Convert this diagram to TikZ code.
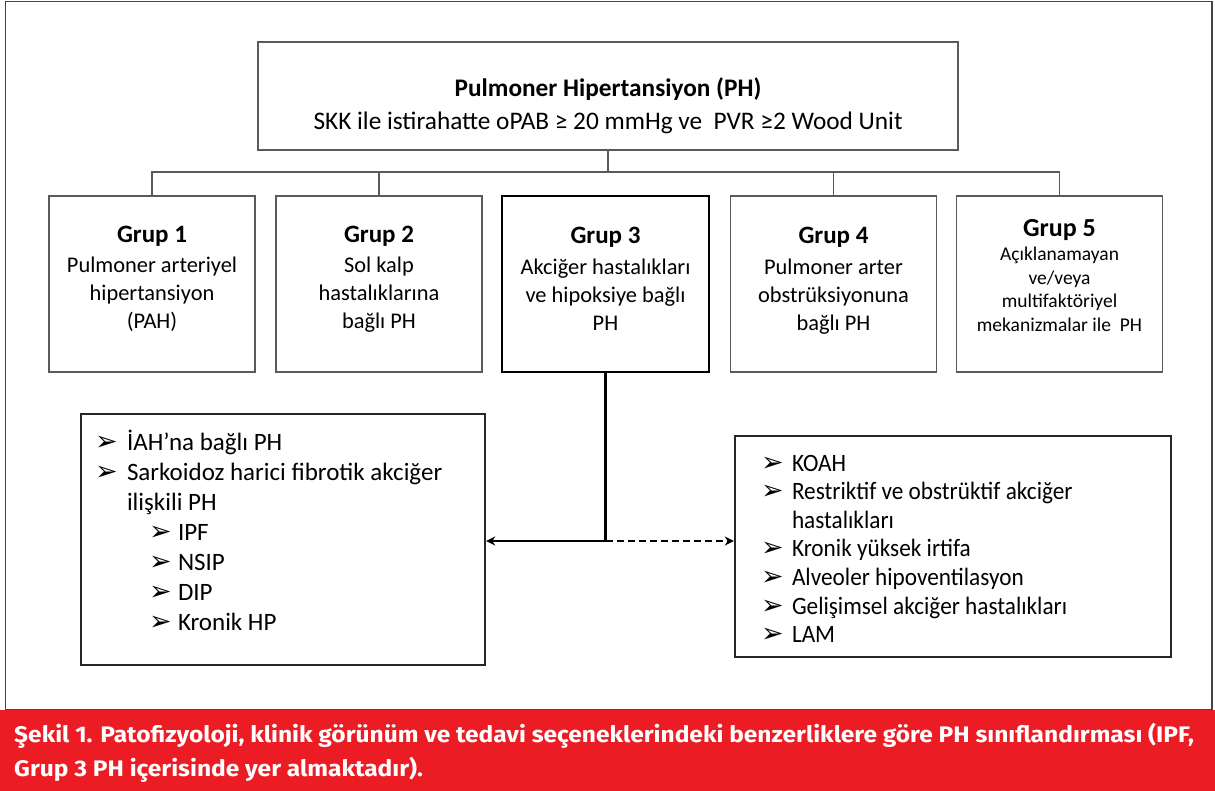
\documentclass[tikz,border=0pt]{standalone}
\usepackage{fontspec}
\setmainfont{Carlito}
\newfontfamily\dingfont{DejaVu Sans}
\newfontfamily\capfont[FakeStretch=1.09]{Fira Sans}
\newfontfamily\narrowfont[FakeStretch=0.93]{Carlito}
\usetikzlibrary{arrows.meta}
\definecolor{boxgray}{HTML}{5A5A5A}
\definecolor{framegray}{HTML}{444444}
\definecolor{capred}{HTML}{EC1C24}
% list bullets
\newcommand{\bul}{{\dingfont\fontsize{27}{27}\selectfont ➢}}
\newcommand{\itm}[2][32pt]{\makebox[#1][l]{\bul}#2}
\newcommand{\subitm}[1]{\hspace*{54pt}\makebox[29pt][l]{\bul}#1}
% first-line strut and box bodies: #1 = body height, #2 = width, #3 = text
\newcommand{\fstrut}{\rule{0pt}{20pt}}
\newcommand{\cbody}[3]{\parbox[c][#1][t]{#2}{\centering\fstrut #3}}
\newcommand{\lbody}[3]{\parbox[c][#1][t]{#2}{\raggedright\fstrut #3}}
\newcommand{\gt}[1]{{\bfseries\fontsize{25}{28}\selectfont #1}}
\tikzset{
  topbox/.style={draw=boxgray, line width=1.6pt, minimum width=700pt, minimum height=108pt, inner sep=0pt},
  grpbox/.style={draw=boxgray, line width=1.6pt, minimum width=206pt, minimum height=176pt, inner sep=0pt},
  keybox/.style={grpbox, draw=black, line width=2.8pt, minimum width=207pt},
  listbox/.style={draw=black!85, line width=2.4pt, inner sep=0pt},
  bus/.style={draw=boxgray, line width=1.4pt},
  link/.style={draw=black, line width=2.4pt},
  tip/.style={-{Stealth[length=9pt,width=9pt]}},
}
\begin{document}
\begin{tikzpicture}[x=1pt, y=-1pt]
\useasboundingbox (0,0) rectangle (1215,791);
% page frame and caption banner
\draw[framegray, line width=1.5pt] (5.5,1.5) rectangle (1212,710);
\fill[capred] (0,710) rectangle (1215,791);
\node[anchor=north west, inner sep=0pt, text=white] (cap) at (14,722)
  {\parbox[t]{1200pt}{\capfont\bfseries\fontsize{22.5}{34}\selectfont\fstrut
   Şekil 1. Patofizyoloji, klinik görünüm ve tedavi seçeneklerindeki benzerliklere göre PH sınıflandırması (IPF,\\
   Grup 3 PH içerisinde yer almaktadır).}};

% root
\node[topbox] (top) at (608,96)
  {\cbody{38pt}{680pt}{\fontsize{25.3}{33}\selectfont
   {\bfseries Pulmoner Hipertansiyon (PH)}\\
   SKK ile istirahatte oPAB ≥ 20 mmHg ve\ \ PVR ≥2 Wood Unit}};

% groups
\node[grpbox] (g1) at (152,284) {\cbody{122pt}{200pt}{\fontsize{22.4}{28}\selectfont
  \gt{Grup 1}\\[2pt] Pulmoner arteriyel\\ hipertansiyon\\ (PAH)}};
\node[grpbox] (g2) at (379,284) {\cbody{122pt}{200pt}{\fontsize{22.4}{28}\selectfont
  \gt{Grup 2}\\[2pt] Sol kalp\\ hastalıklarına\\ bağlı PH}};
\node[keybox] (g3) at (605.5,284) {\cbody{120pt}{200pt}{\fontsize{22.4}{28}\selectfont
  \gt{Grup 3}\\[3pt] Akciğer hastalıkları\\ ve hipoksiye bağlı\\ PH}};
\node[grpbox] (g4) at (833.5,284) {\cbody{120pt}{200pt}{\fontsize{22.4}{28}\selectfont
  \gt{Grup 4}\\[3pt] Pulmoner arter\\ obstrüksiyonuna\\ bağlı PH}};
\node[grpbox] (g5) at (1059.5,284) {\cbody{134pt}{200pt}{\fontsize{19.5}{23.5}\selectfont
  {\bfseries\fontsize{26}{28}\selectfont Grup 5}\\[0.5pt] Açıklanamayan\\ ve/veya\\ multifaktöriyel\\ mekanizmalar ile\ \ PH}};

% detail lists
\node[listbox, minimum width=404pt, minimum height=251pt] (lbox) at (283,539.5)
  {\lbody{219pt}{376pt}{\fontsize{25}{30}\selectfont
   \itm{İAH’na bağlı PH}\\
   \itm{Sarkoidoz harici fibrotik akciğer}\\
   \hspace*{32pt}ilişkili PH\\
   \subitm{IPF}\\
   \subitm{NSIP}\\
   \subitm{DIP}\\
   \subitm{Kronik HP}}};
\node[listbox, minimum width=436pt, minimum height=221pt] (rbox) at (953,546.5)
  {\lbody{191pt}{384pt}{\narrowfont\fontsize{25}{28.6}\selectfont
   \itm[31pt]{KOAH}\\
   \itm[31pt]{Restriktif ve obstrüktif akciğer}\\
   \hspace*{31pt}hastalıkları\\
   \itm[31pt]{Kronik yüksek irtifa}\\
   \itm[31pt]{Alveoler hipoventilasyon}\\
   \itm[31pt]{Gelişimsel akciğer hastalıkları}\\
   \itm[31pt]{LAM}}};

% hierarchy connectors
\coordinate (busy) at (0,172);
\coordinate (jy) at (0,541);
\draw[bus] (top.south) -- (top.south |- busy);
\draw[bus] (g1.north) -- (g1.north |- busy) -- (g5.north |- busy) -- (g5.north);
\draw[bus] (g2.north) -- (g2.north |- busy);
\draw[bus] (g4.north) -- (g4.north |- busy);

% group 3 branches
\coordinate (j) at (g3.south |- jy);
\draw[link] (g3.south) -- (j);
\draw[link, tip] (j) -- (j -| lbox.east);
\draw[link, tip, dash pattern=on 7pt off 4pt] (j) -- (j -| rbox.west);
\end{tikzpicture}
\end{document}
